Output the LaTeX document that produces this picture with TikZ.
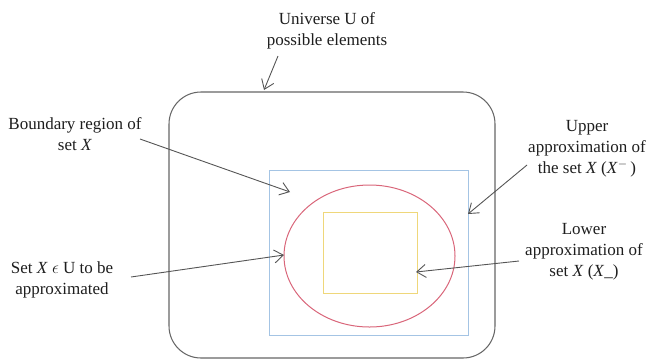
\documentclass[tikz,border=0pt]{standalone}
\usepackage{fontspec}
\setmainfont{Liberation Serif}
\usetikzlibrary{arrows.meta,shapes.geometric}
\definecolor{outercol}{HTML}{666666}
\definecolor{bluecol}{HTML}{A4C4E4}
\definecolor{redcol}{HTML}{D9667A}
\definecolor{yelcol}{HTML}{EFD77A}
\definecolor{arrcol}{HTML}{555555}
\definecolor{txtcol}{HTML}{1E1E1E}
\tikzset{
  lbl/.style={align=center, text=txtcol, font=\fontsize{17}{21}\selectfont, inner sep=0pt},
  pointer/.style={draw=arrcol, line width=0.9pt, -{Straight Barb[length=9pt,width=13pt,line width=0.9pt]}}
}
\begin{document}
\begin{tikzpicture}[x=1pt,y=-1pt]
\useasboundingbox (0,0) rectangle (647,360);
% shapes
\draw[outercol, line width=1.05pt, rounded corners=32pt] (169,92) rectangle (495,358);
\node[draw=bluecol, line width=1pt, minimum width=199pt, minimum height=165pt, inner sep=0pt] (blue) at (368.5,252.5) {};
\node[draw=redcol, line width=1pt, ellipse, minimum width=171pt, minimum height=142pt, inner sep=0pt] (ell) at (369.5,256) {};
\node[draw=yelcol, line width=1pt, minimum width=94pt, minimum height=81pt, inner sep=0pt] (yel) at (370,252.5) {};
% anchors
\coordinate (uniTip) at (264,90);
\coordinate (bndTip) at (290,192);
\coordinate (upTip) at (468,214);
\coordinate (setTip) at (284,255);
\coordinate (lowTip) at (416,272);
% labels
\node[lbl] (uni) at (327,31) {Universe U of\\possible elements};
\node[lbl] (bnd) at (75,134) {Boundary region of\\set \textit{X}};
\node[lbl] (setx) at (62,280) {Set \textit{X} $\epsilon$ U to be\\approximated};
\node[lbl] (up) at (587,149) {Upper\\approximation of\\the set \textit{X} (\textit{X}\textsuperscript{$-$}\,)};
\node[lbl] (low) at (584,252) {Lower\\approximation of\\set \textit{X} (\textit{X}\_)};
% pointers
\draw[pointer] (278,56) -- (uniTip);
\draw[pointer] (140,139) -- (bndTip);
\draw[pointer] (527,165) -- (upTip);
\draw[pointer] (131,277) -- (setTip);
\draw[pointer] (519,261) -- (lowTip);
\end{tikzpicture}
\end{document}
